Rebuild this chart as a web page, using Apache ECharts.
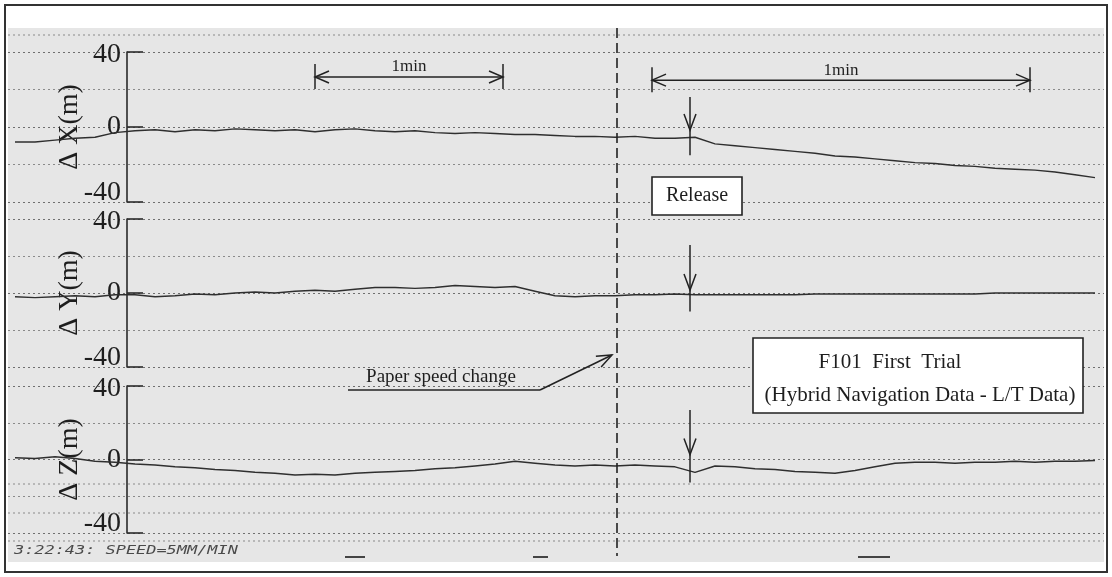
<!DOCTYPE html>
<html><head><meta charset="utf-8">
<script src="https://cdn.jsdelivr.net/npm/echarts@6/dist/echarts.min.js"></script>
<style>html,body{margin:0;padding:0;background:#fff}#c{width:1112px;height:577px}</style>
</head><body><div id="c"></div>
<script>
// sample index along the paper strip (one sample per chart division)
const samplePos = [0,1,2,3,4,5,6,7,8,9,10,11,12,13,14,15,16,17,18,19,20,21,22,23,24,25,26,27,28,29,30,31,32,33,34,35,36,37,38,39,40,41,42,43,44,45,46,47,48,49,50,51,52,53,54];
const deltaX = [-8,-8,-7,-6,-5.5,-3,-2,-1.5,-2.5,-1.5,-2,-1,-1.5,-2,-1.5,-2.5,-1.5,-1,-2,-2.5,-2,-3,-3.5,-3,-3.5,-4,-4,-4.5,-5,-5,-5.5,-5,-6,-6,-5.5,-9,-10,-11,-12,-13,-14,-15.5,-16,-17,-18,-19,-19.5,-20.5,-21,-22,-22.5,-23,-24,-25.5,-27];
const deltaY = [-2,-2.5,-2,-1.5,-2,-1,-1,-2,-1.5,-0.5,-1,0,0.5,0,1,1.5,1,2,3,3,2.5,3,4,3.5,3,3.5,1,-1.5,-2,-1.5,-1.5,-1,-1,-0.5,-1,-1,-1,-1,-1,-1,-0.5,-0.5,-0.5,-0.5,-0.5,-0.5,-0.5,-0.5,-0.5,0,0,0,0,0,0];
const deltaZ = [1,0.5,1.5,0.5,-1,-1.5,-2.5,-3,-4,-4.5,-5.5,-6,-7,-7.5,-8.5,-8,-8.5,-7.5,-7,-6.5,-6,-5,-4.5,-3.5,-2.5,-1,-2,-3,-3.5,-3,-3.5,-3,-3.5,-4,-7,-3.5,-4,-5,-5.5,-6.5,-7,-7.5,-6,-4,-2,-1.5,-1.5,-2,-1.5,-1.5,-1,-1.5,-1,-1,-0.5];
const panelNames = ['\u0394 X(m)','\u0394 Y(m)','\u0394 Z(m)'];
const yMin = -40, yMax = 40, yStep = 40;
// annotation anchors (data units)
const speedChangeAt = 30.1;
const releaseAt = 33.75;
const minuteSpans = [[15, 24.4, 26.7], [31.85, 50.75, 25]];
const releaseArrows = [[16, -1.6, -15], [26, 1.6, -10], [27, 2.7, -12.5]];
const minuteLabel = '1min';
const releaseLabel = 'Release';
const titleLines = ['F101  First  Trial', '(Hybrid Navigation Data - L/T Data)'];
const speedLabel = 'Paper speed change';
const footerText = '3:22:43: SPEED=5MM/MIN';

const chart = echarts.init(document.getElementById('c'), null, {renderer:'canvas'});
const seriesVals = [deltaX, deltaY, deltaZ];
const gridBoxes = [{top:52,height:150},{top:219,height:148},{top:386,height:147}];
const SERIF = '"Liberation Serif", "Times New Roman", serif';
const ink = '#1e1e1e';
const lblBase = {fontFamily:SERIF, fontSize:28, color:ink};

const option = {
  animation: false,
  backgroundColor: '#ffffff',
  grid: gridBoxes.map(g => ({left:8, right:8, top:g.top, height:g.height})),
  xAxis: gridBoxes.map((g,i) => ({gridIndex:i, type:'value', min:-0.35, max:54.45, show:false})),
  yAxis: gridBoxes.map((g,i) => ({
    gridIndex:i, type:'value', min:yMin, max:yMax, interval:yStep, offset:-119,
    axisLine:{show:true, onZero:false, lineStyle:{color:'#2a2a2a', width:1.6}},
    axisTick:{show:true, inside:true, length:16, lineStyle:{color:'#2a2a2a', width:1.6}},
    axisLabel:{color:ink, fontFamily:SERIF, fontSize:28, margin:6,
      formatter: v => v === yMin ? '{lo|' + v + '}' : (v === yMax ? '{hi|' + v + '}' : '{mid|' + v + '}'),
      rich:{
        lo:Object.assign({padding:[0,0,18,0]}, lblBase),
        hi:Object.assign({padding:[6,0,0,0]}, lblBase),
        mid:Object.assign({}, lblBase)
      }},
    name: panelNames[i], nameLocation:'middle', nameGap:43, nameMoveOverlap:false,
    nameTextStyle:{fontFamily:SERIF, fontSize:28, color:ink},
    splitLine:{show:true, lineStyle:{type:[2,3], color:'#6f6f6f', width:1}},
    minorTick:{show:false, splitNumber:2},
    minorSplitLine:{show:true, lineStyle:{type:[2,3], color:'#8a8a8a', width:1}}
  })),
  series: seriesVals.map((vals,i) => ({
    type:'line', xAxisIndex:i, yAxisIndex:i, showSymbol:false, smooth:false,
    lineStyle:{color:'#2f2f2f', width:1.5},
    data: samplePos.map((p,k) => [p, vals[k]])
  }))
};
chart.setOption(option);

const P = (g, x, y) => chart.convertToPixel({gridIndex:g}, [x, y]);
function seg(x1,y1,x2,y2,extra){return {type:'line', shape:{x1,y1,x2,y2}, style:Object.assign({stroke:'#222', lineWidth:1.5}, extra||{}), z:50};}
function head(tx,ty,dx,dy,len,half){
  const L = Math.hypot(dx,dy); dx/=L; dy/=L;
  const bx = tx - dx*len, by = ty - dy*len, px = -dy*half, py = dx*half;
  return {type:'polyline', shape:{points:[[bx+px,by+py],[tx,ty],[bx-px,by-py]]}, style:{stroke:'#222', lineWidth:1.5, fill:null}, z:50};
}
function txt(x,y,text,font,align,extra,el){
  return Object.assign({type:'text', x:x, y:y, z:60, style:Object.assign({text:text, font:font, fill:ink, align:align, verticalAlign:'middle', textAlign:align, textVerticalAlign:'middle'}, extra||{})}, el||{});
}

const g = [];
// paper background (halftone tone) and frame
g.push({type:'rect', shape:{x:8, y:28, width:1096, height:534}, style:{fill:'#e6e6e6'}, z:-10});
g.push({type:'rect', shape:{x:5, y:5, width:1102, height:567}, style:{fill:null, stroke:'#333', lineWidth:2}, z:70});
[35, 484, 513, 541].forEach(y => g.push(seg(8,y,1104,y,{stroke:'#8a8a8a', lineWidth:1, lineDash:[2,3]})));

// dashed paper-speed-change line
const sx = P(0, speedChangeAt, 0)[0];
g.push(seg(sx, 28, sx, 556, {lineDash:[10,5], lineWidth:1.6}));

// 1 min spans
minuteSpans.forEach(([a,b,yv]) => {
  const p1 = P(0,a,yv), p2 = P(0,b,yv);
  g.push(seg(p1[0],p1[1],p2[0],p2[1]));
  g.push(seg(p1[0],p1[1]-13,p1[0],p1[1]+12));
  g.push(seg(p2[0],p2[1]-13,p2[0],p2[1]+12));
  g.push(head(p1[0],p1[1],-1,0,14,6));
  g.push(head(p2[0],p2[1],1,0,14,6));
  g.push(txt((p1[0]+p2[0])/2, p1[1]-10, minuteLabel, '17px '+SERIF, 'center'));
});

// release arrows
releaseArrows.forEach(([top,tip,bot],i) => {
  const a = P(i, releaseAt, top), t = P(i, releaseAt, tip), b = P(i, releaseAt, bot);
  g.push(seg(a[0],a[1],b[0],b[1]));
  g.push(head(t[0],t[1],0,1,16,6));
});

// Release box
g.push({type:'rect', shape:{x:652, y:177, width:90, height:38}, style:{fill:'#fff', stroke:'#222', lineWidth:1.6}, z:55});
g.push(txt(697, 196, releaseLabel, '20px '+SERIF, 'center'));

// Title box
g.push({type:'rect', shape:{x:753, y:338, width:330, height:75}, style:{fill:'#fff', stroke:'#222', lineWidth:1.6}, z:55});
g.push(txt(890, 362, titleLines[0], '21px '+SERIF, 'center'));
g.push(txt(920, 395, titleLines[1], '21px '+SERIF, 'center'));

// Paper speed change label with arrow
g.push(txt(441, 377, speedLabel, '19px '+SERIF, 'center'));
g.push(seg(348, 390, 540, 390));
g.push(seg(540, 390, sx-5, 355));
g.push(head(sx-5, 355, sx-5-540, 355-390, 15, 6));

// footer recorder text and marks
g.push(txt(14, 551, footerText, 'italic 13px "DejaVu Sans Mono", monospace', 'left', {fill:'#4a4a4a'}, {scaleX:1.3}));
[[345,365],[533,548],[858,890]].forEach(([x1,x2]) => g.push(seg(x1,557,x2,557,{stroke:'#444', lineWidth:2})));

chart.setOption({graphic: g});
</script>
</body></html>
